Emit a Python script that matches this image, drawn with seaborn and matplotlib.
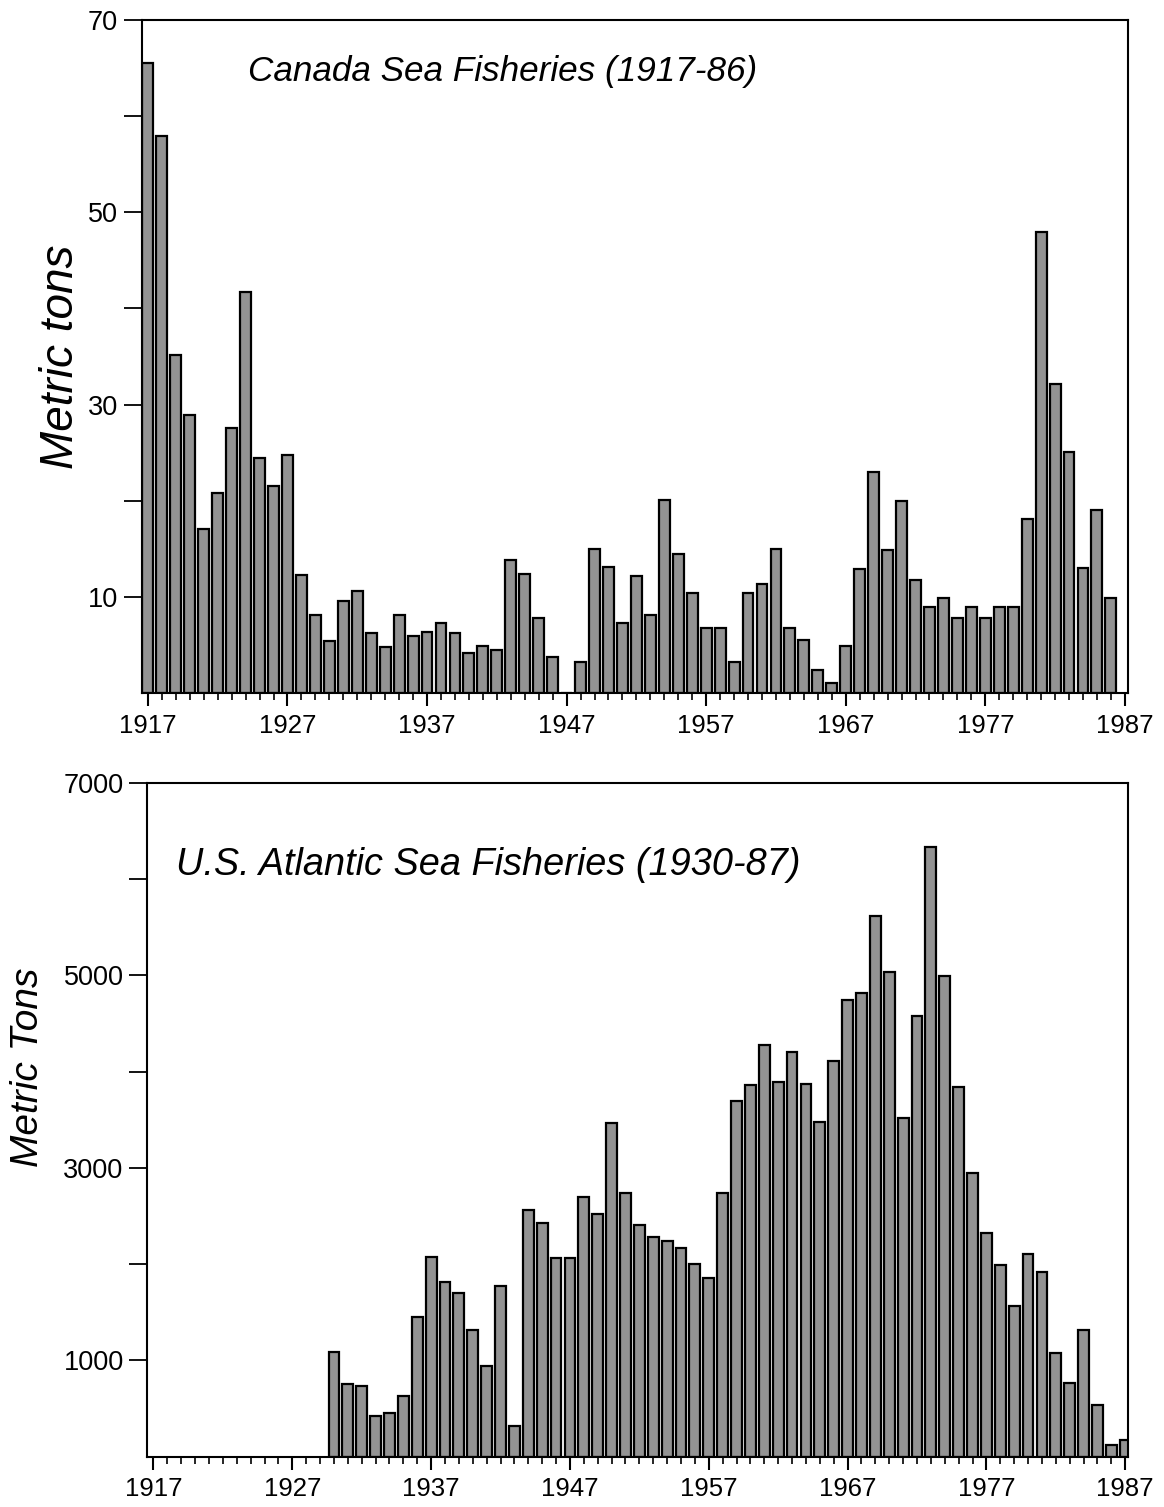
import numpy as np
import pandas as pd
import seaborn as sns
import matplotlib.pyplot as plt
from matplotlib.ticker import MultipleLocator

# scallop landings
canada_years = list(range(1917, 1987))
canada_tons = [65.5, 57.9, 35.2, 28.9, 17.1, 20.8, 27.6, 41.7, 24.4, 21.5,
               24.8, 12.3, 8.1, 5.4, 9.6, 10.6, 6.2, 4.8, 8.1, 5.9,
               6.3, 7.3, 6.2, 4.2, 4.9, 4.5, 13.8, 12.4, 7.8, 3.7,
               0.0, 3.2, 15.0, 13.1, 7.3, 12.2, 8.1, 20.1, 14.5, 10.4,
               6.8, 6.8, 3.2, 10.4, 11.3, 15.0, 6.8, 5.5, 2.4, 1.0,
               4.9, 12.9, 23.0, 14.9, 20.0, 11.8, 8.9, 9.9, 7.8, 8.9,
               7.8, 8.9, 8.9, 18.1, 48.0, 32.1, 25.1, 13.0, 19.0, 9.9]

us_years = list(range(1930, 1988))
us_tons = [1091, 755, 738, 426, 457, 630, 1448, 2074, 1811, 1700,
           1312, 938, 1776, 322, 2566, 2428, 2060, 2060, 2700, 2520,
           3470, 2740, 2410, 2280, 2240, 2170, 2000, 1860, 2740, 3700,
           3860, 4280, 3890, 4200, 3870, 3480, 4110, 4740, 4820, 5620,
           5040, 3520, 4580, 6330, 4990, 3840, 2950, 2320, 1990, 1560,
           2100, 1920, 1080, 760, 1310, 540, 120, 170]

x_ticks = [1917, 1927, 1937, 1947, 1957, 1967, 1977, 1987]
canada_labels = [10, 30, 50, 70]
us_labels = [1000, 3000, 5000, 7000]

sns.set_style('ticks')
plt.rcParams['font.family'] = ['Liberation Sans', 'DejaVu Sans']
for k in ['text.color', 'axes.labelcolor', 'xtick.color', 'ytick.color', 'axes.edgecolor']:
    plt.rcParams[k] = 'black'

fig = plt.figure(figsize=(11.64, 15.07), dpi=100)
ax1 = fig.add_axes([0.1217, 0.5401, 0.8473, 0.4466])
ax2 = fig.add_axes([0.1265, 0.0335, 0.8428, 0.4469])

bar_kw = dict(native_scale=True, width=0.78, color='#939393', saturation=1,
              edgecolor='black', linewidth=1.6, errorbar=None)

canada = pd.DataFrame({'year': canada_years, 'tons': canada_tons})
us = pd.DataFrame({'year': us_years, 'tons': us_tons})

sns.barplot(data=canada, x='year', y='tons', ax=ax1, **bar_kw)
sns.barplot(data=us, x='year', y='tons', ax=ax2, **bar_kw)


def style_axis(ax, ymax, ystep, labels):
    ax.set_xlim(1916.55, 1987.22)
    ax.set_ylim(0, ymax)
    ax.set_xticks(x_ticks)
    ax.set_xticklabels([str(y) for y in x_ticks])
    ax.xaxis.set_minor_locator(MultipleLocator(1))
    yt = np.arange(ystep, ymax + ystep / 2, ystep)
    ax.set_yticks(yt)
    ax.set_yticklabels([str(int(v)) if int(v) in labels else '' for v in yt])
    ax.tick_params(axis='x', which='major', length=9, width=1.5, labelsize=18.5, pad=6)
    ax.tick_params(axis='x', which='minor', length=5, width=1.2)
    ax.tick_params(axis='y', which='major', length=13, width=1.3, labelsize=19.5, pad=4)
    for s in ax.spines.values():
        s.set_linewidth(1.5)
        s.set_visible(True)
    ax.set_xlabel('')


style_axis(ax1, 70, 10, canada_labels)
style_axis(ax2, 7000, 1000, us_labels)

ax1.set_ylabel('Metric tons', fontsize=33, style='italic')
ax1.yaxis.set_label_coords(-0.059, 0.499)
ax2.set_ylabel('Metric Tons', fontsize=28, style='italic')
ax2.yaxis.set_label_coords(-0.103, 0.578)

ax1.text(0.108, 0.923, 'Canada Sea Fisheries (1917-86)', transform=ax1.transAxes,
         fontsize=25.3, style='italic', va='center', ha='left')
ax2.text(0.029, 0.878, 'U.S. Atlantic Sea Fisheries (1930-87)', transform=ax2.transAxes,
         fontsize=27.3, style='italic', va='center', ha='left')

fig.savefig('out.png', dpi=100)
